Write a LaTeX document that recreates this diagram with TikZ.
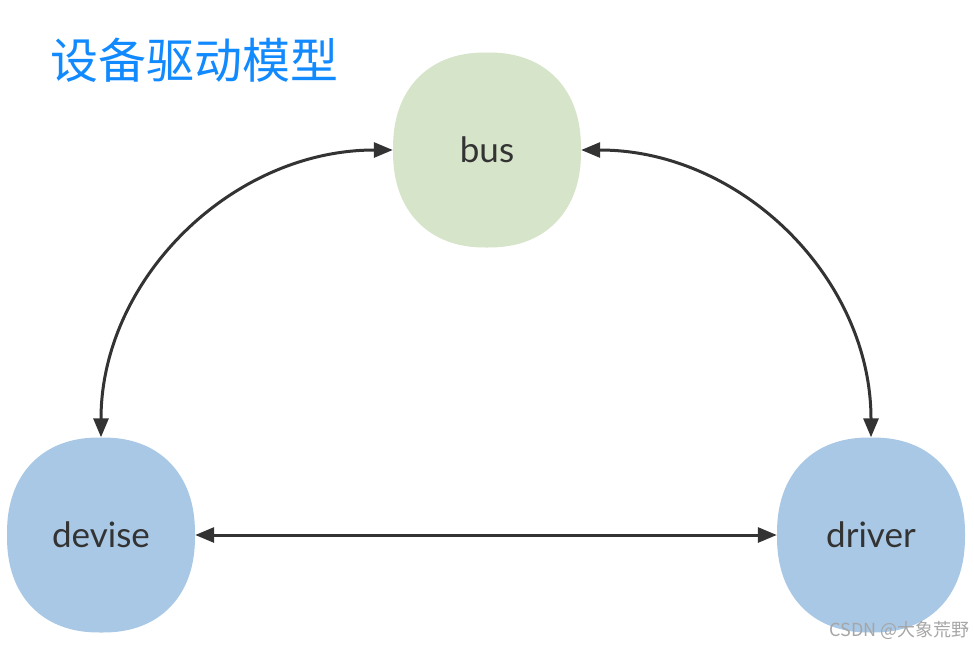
\documentclass[tikz,border=0pt]{standalone}
\usepackage{fontspec}
\setmainfont{Lato}
\newfontfamily\cjk{Noto Sans CJK SC}
\usetikzlibrary{arrows.meta,shapes.geometric}
\definecolor{busfill}{RGB}{214,228,202}
\definecolor{devfill}{RGB}{168,200,230}
\definecolor{ink}{RGB}{51,51,51}
\definecolor{titleblue}{RGB}{18,138,255}
\tikzset{
  blob/.style={ellipse, minimum width=188pt, minimum height=195pt, inner sep=0pt, font=\fontsize{35}{40}\selectfont, text=ink},
  link/.style={draw=ink, line width=3pt, {Triangle[length=19pt,width=15pt]}-{Triangle[length=19pt,width=15pt]}}
}
\newcommand{\superblob}[3]{% x y color
  \fill[#3] plot[domain=0:359, samples=240, variable=\t]
    ({#1+94*(cos(\t)<0?-1:1)*abs(cos(\t))^(0.88)}, {#2+97.5*(sin(\t)<0?-1:1)*abs(sin(\t))^(0.88)}) -- cycle;}
\begin{document}
\begin{tikzpicture}[x=1pt,y=-1pt]
\useasboundingbox (0,0) rectangle (974,648);
\superblob{487}{150}{busfill}
\superblob{101}{535}{devfill}
\superblob{871}{535}{devfill}
\node[blob] (bus) at (487,150) {bus};
\node[blob] (devise) at (101,535) {devise};
\node[blob] (driver) at (871,535) {driver};
\node[anchor=west, text=titleblue, font=\cjk\fontsize{48}{52}\selectfont] (title) at (47,60) {设备驱动模型};
\node[anchor=east, text=black!35, font=\cjk\fontsize{18}{20}\selectfont] (mark) at (973,630) {CSDN @大象荒野};
\draw[link] (bus.west) .. controls (232,150) and (101,279) .. (devise.north);
\draw[link] (bus.east) .. controls (742,150) and (871,279) .. (driver.north);
\draw[link] (devise.east) -- (driver.west);
\end{tikzpicture}
\end{document}
